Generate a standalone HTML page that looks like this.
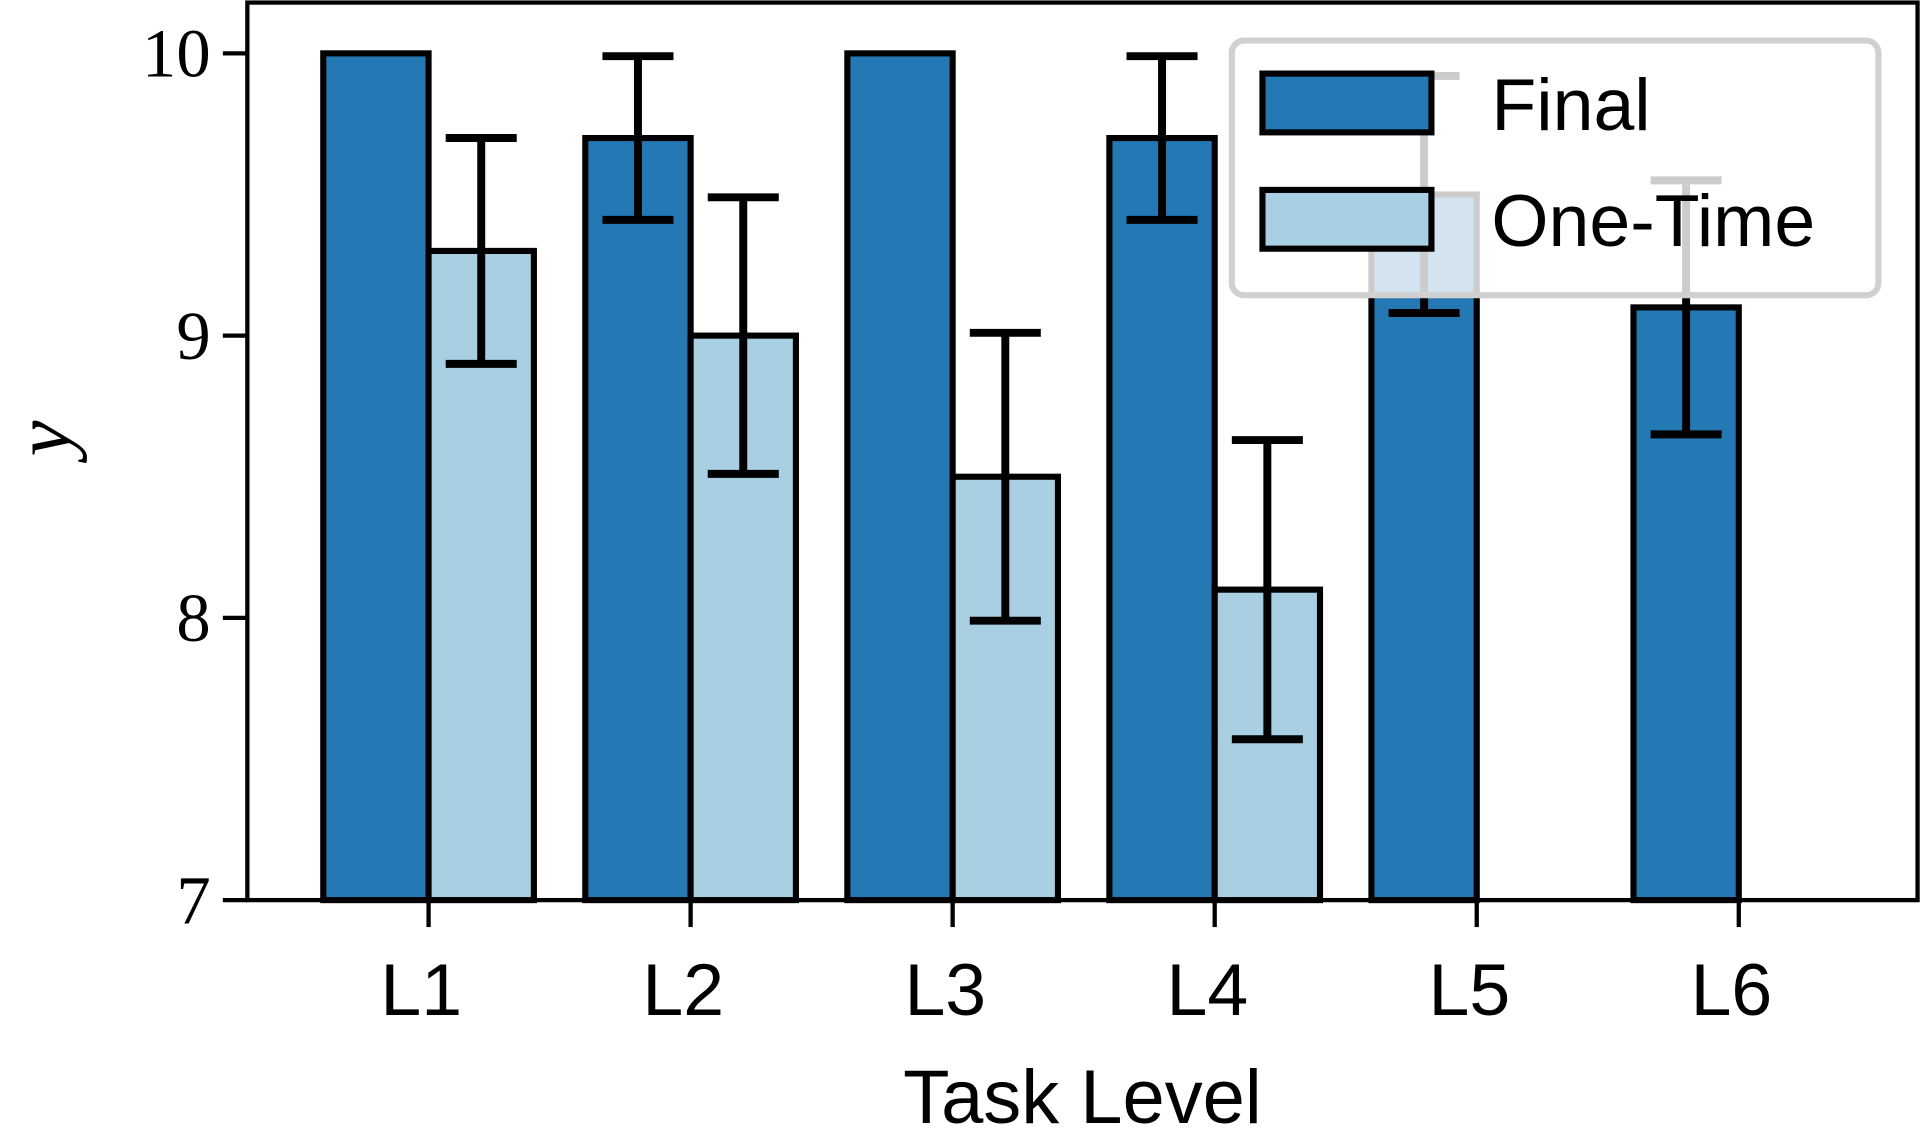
<!DOCTYPE html>
<html><head><meta charset="utf-8"><style>
html,body{margin:0;padding:0;background:#fff;}
svg{display:block;}
.tick{font-family:"Liberation Serif",serif;font-size:56px;}
.sans{font-family:"Liberation Sans","DejaVu Sans",sans-serif;}
</style></head><body>
<svg id="chart" width="1920" height="1139" viewBox="0 0 1568 930" xmlns="http://www.w3.org/2000/svg">
<g id="plot"></g>
</svg>
<script>
const categories = ["L1","L2","L3","L4","L5","L6"];
const finalValues = [10, 9.7, 10, 9.7, 9.5, 9.1];
const finalErrors = [0, 0.29, 0, 0.29, 0.42, 0.45];
const oneTimeValues = [9.3, 9.0, 8.5, 8.1, null, null];
const oneTimeErrors = [0.4, 0.49, 0.51, 0.53, null, null];
const yTicks = [7, 8, 9, 10];

const NS = "http://www.w3.org/2000/svg";
const g = document.getElementById('plot');
const L = 202, R = 1566, T = 2, B = 735;
const yMin = 7, yMax = 10.18;
function y(v){ return B - (v - yMin) / (yMax - yMin) * (B - T); }
const step = 214, x0 = 350, bw = 86;
function xc(i){ return x0 + i * step; }
function mk(tag, attrs, parent){
  const e = document.createElementNS(NS, tag);
  for (const k in attrs) e.setAttribute(k, attrs[k]);
  (parent || g).appendChild(e);
  return e;
}
function errbar(cx, v, e){
  const l = mk('g', {stroke:'#000','stroke-width':6.5});
  
  
  mk('line', {x1:cx, x2:cx, y1:y(v+e), y2:y(v-e)}, l);
  mk('line', {x1:cx-29, x2:cx+29, y1:y(v+e), y2:y(v+e)}, l);
  mk('line', {x1:cx-29, x2:cx+29, y1:y(v-e), y2:y(v-e)}, l);
}
categories.forEach((c, i) => {
  const b = mk('rect', {x:xc(i)-bw, y:y(finalValues[i]), width:bw, height:B-y(finalValues[i]), fill:'#2478b4', stroke:'#000','stroke-width':5});
  
  
  if (oneTimeValues[i] !== null) {
    const b2 = mk('rect', {x:xc(i), y:y(oneTimeValues[i]), width:bw, height:B-y(oneTimeValues[i]), fill:'#a9cfe2', stroke:'#000','stroke-width':5});
    
    
  }
});
categories.forEach((c, i) => {
  if (finalErrors[i] > 0) errbar(xc(i) - bw/2, finalValues[i], finalErrors[i]);
  if (oneTimeValues[i] !== null) errbar(xc(i) + bw/2, oneTimeValues[i], oneTimeErrors[i]);
});
const fr = mk('rect', {x:L, y:T, width:R-L, height:B-T, fill:'none', stroke:'#000','stroke-width':3.5});


yTicks.forEach(t => {
  mk('line', {x1:L-20, x2:L, y1:y(t), y2:y(t), stroke:'#000','stroke-width':3.5});
  const tx = mk('text', {x:L-30, y:y(t)+19, 'text-anchor':'end', class:'tick'});
  tx.textContent = t;
  
  
});
categories.forEach((c, i) => {
  mk('line', {x1:xc(i), x2:xc(i), y1:B, y2:B+22, stroke:'#000','stroke-width':3.5});
  const tx = mk('text', {x:xc(i)-6, y:829, 'text-anchor':'middle', class:'sans','font-size':60});
  tx.textContent = c;
  
  
});
const yl = mk('text', {x:0, y:0, transform:'translate(57,358) rotate(-90)', 'text-anchor':'middle', 'font-family':'"Liberation Serif",serif', 'font-style':'italic', 'font-size':66});
yl.textContent = 'y';


const xl = mk('text', {x:884, y:917, 'text-anchor':'middle', class:'sans','font-size':62});
xl.textContent = 'Task Level';


const lg = mk('g', {});


mk('rect', {x:1006, y:33, width:528, height:208, rx:10, fill:'rgba(255,255,255,0.8)', stroke:'#d0d0d0','stroke-width':5}, lg);
const entries = [['Final','#2478b4',60],['One-Time','#a9cfe2',155]];
entries.forEach(en => {
  const r = mk('rect', {x:1031, y:en[2], width:138, height:48, fill:en[1], stroke:'#000','stroke-width':5}, lg);
  
  
  const t = mk('text', {x:1218, y:en[2]+46, class:'sans','font-size':60}, lg);
  t.textContent = en[0];
  
  
});
</script>
</body></html>
